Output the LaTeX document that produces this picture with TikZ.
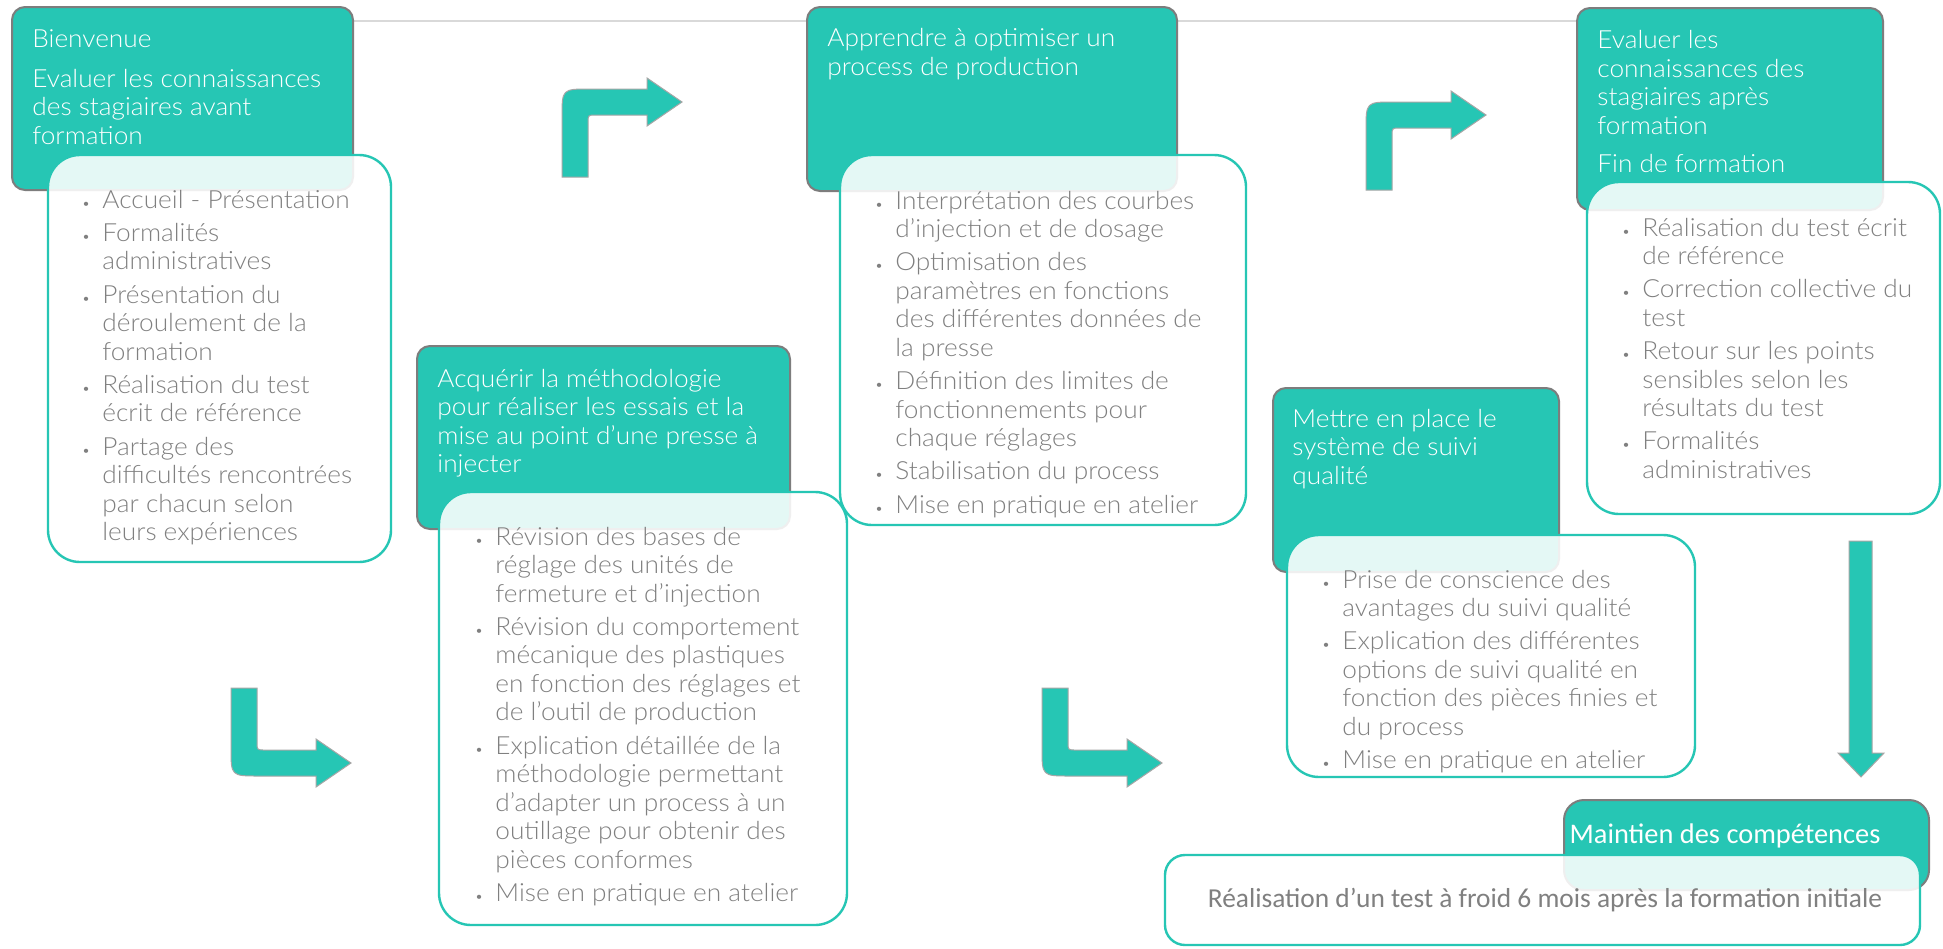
\documentclass[tikz,border=0pt]{standalone}
\usepackage{fontspec}
\setmainfont{Lato Light}[FakeStretch=1.05]
\newfontfamily\calibri{Carlito}

\definecolor{mint}{RGB}{38,198,180}
\definecolor{txtgray}{RGB}{128,128,128}
\definecolor{rimgray}{RGB}{125,125,125}
\definecolor{linegray}{RGB}{217,217,217}

% bullet hanging in the left margin of a list line
\newcommand{\bul}{\llap{{\fontsize{7}{7}\selectfont\textbullet}\hspace{6pt}}}

% bent block arrow, (0,0) is the free end of the shaft
\newcommand{\bentarrow}[1]{%
  \filldraw[arrowbody,#1] (0,0) -- (0,-60) .. controls (0,-88) .. (28,-88)
    -- (85,-88) -- (85,-99) -- (120,-75) -- (85,-51) -- (85,-62)
    -- (34,-62) .. controls (26,-62) .. (26,-54) -- (26,0) -- cycle;}

\begin{document}
\begin{tikzpicture}[x=0.5pt, y=-0.5pt,
    stage/.style={fill=mint, draw=rimgray, line width=1pt, rounded corners=6.5pt},
    detail/.style={fill=white, fill opacity=0.88, draw=mint, line width=1.2pt, rounded corners=16pt},
    % text blocks are placed by the baseline of their last line
    head/.style={anchor=base west, align=left, inner sep=0pt, text=white,
      font=\fontsize{12.5}{14.25}\selectfont},
    list/.style={anchor=base west, align=left, inner sep=0pt, text=txtgray,
      font=\fontsize{12.5}{14.25}\selectfont},
    arrowbody/.style={fill=mint, draw=gray!70, line width=0.5pt}]
  \fill[white] (0,0) rectangle (1943,948);
  \useasboundingbox (0,0) rectangle (1943,948);

  % Thin line along the top row
  \draw[linegray, line width=1.2pt] (353,21) -- (1577,21);

  % Step 1
  \filldraw[stage] (12,7) rectangle (353,190);
  \filldraw[detail] (48,155) rectangle (391,562);
  \node[head] (s1head) at (32,144)
    {Bienvenue\\[5.5pt]Evaluer les connaissances\\des stagiaires avant\\formation};
  \node[list] (s1list) at (102,540.7)
    {\bul Accueil - Présentation\\[2.4pt]
     \bul Formalités\\administratives\\[2.4pt]
     \bul Présentation du\\déroulement de la\\formation\\[2.4pt]
     \bul Réalisation du test\\écrit de référence\\[2.4pt]
     \bul Partage des\\difficultés rencontrées\\par chacun selon\\leurs expériences};

  % Step 2
  \filldraw[stage] (417,346) rectangle (790,529);
  \filldraw[detail] (439,492) rectangle (847,925);
  \node[head] (s2head) at (437,472.5)
    {Acquérir la méthodologie\\pour réaliser les essais et la\\mise au point d’une presse à\\injecter};
  \node[list] (s2list) at (495,901.4)
    {\bul Révision des bases de\\réglage des unités de\\fermeture et d’injection\\[2.4pt]
     \bul Révision du comportement\\mécanique des plastiques\\en fonction des réglages et\\de l’outil de production\\[2.4pt]
     \bul Explication détaillée de la\\méthodologie permettant\\d’adapter un process à un\\outillage pour obtenir des\\pièces conformes\\[2.4pt]
     \bul Mise en pratique en atelier};

  % Step 3
  \filldraw[stage] (807,7) rectangle (1177,191);
  \filldraw[detail] (840,155) rectangle (1246,525);
  \node[head] (s3head) at (827,75) {Apprendre à optimiser un\\process de production};
  \node[list] (s3list) at (895,513.2)
    {\bul Interprétation des courbes\\d’injection et de dosage\\[2.4pt]
     \bul Optimisation des\\paramètres en fonctions\\des différentes données de\\la presse\\[2.4pt]
     \bul Définition des limites de\\fonctionnements pour\\chaque réglages\\[2.4pt]
     \bul Stabilisation du process\\[2.4pt]
     \bul Mise en pratique en atelier};

  % Step 4
  \filldraw[stage] (1273,388) rectangle (1559,572);
  \filldraw[detail] (1287,535) rectangle (1695,777);
  \node[head] (s4head) at (1292,484) {Mettre en place le\\système de suivi\\qualité};
  \node[list] (s4list) at (1342,768.6)
    {\bul Prise de conscience des\\avantages du suivi qualité\\[2.4pt]
     \bul Explication des différentes\\options de suivi qualité en\\fonction des pièces finies et\\du process\\[2.4pt]
     \bul Mise en pratique en atelier};

  % Step 5
  \filldraw[stage] (1577,8) rectangle (1883,210);
  \filldraw[detail] (1587,182) rectangle (1940,514);
  \node[head] (s5head) at (1597,172.5)
    {Evaluer les\\connaissances des\\stagiaires après\\formation\\[5pt]Fin de formation};
  \node[list] (s5list) at (1642,478.4)
    {\bul Réalisation du test écrit\\de référence\\[2.4pt]
     \bul Correction collective du\\test\\[2.4pt]
     \bul Retour sur les points\\sensibles selon les\\résultats du test\\[2.4pt]
     \bul Formalités\\administratives};

  % Follow-up
  \filldraw[stage, rounded corners=10pt] (1564,800) rectangle (1929,890);
  \filldraw[detail, rounded corners=10pt] (1165,855) rectangle (1920,945);
  \node[anchor=base, text=white, font=\calibri\fontsize{14.2}{16}\selectfont]
    (s6head) at (1725,843) {Maintien des compétences};
  \node[anchor=base, text=txtgray, font=\calibri\fontsize{13.7}{16}\selectfont]
    (s6list) at (1545,907) {Réalisation d’un test à froid 6 mois après la formation initiale};

  % Arrows between the steps
  \bentarrow{shift={(562,177)}}
  \bentarrow{shift={(1366,190)}}
  \bentarrow{shift={(231,688)}, yscale=-1}
  \bentarrow{shift={(1042,688)}, yscale=-1}
  \filldraw[arrowbody] (1849,541) -- (1849,753) -- (1838,753) -- (1861,777)
    -- (1884,753) -- (1872,753) -- (1872,541) -- cycle;
\end{tikzpicture}
\end{document}
